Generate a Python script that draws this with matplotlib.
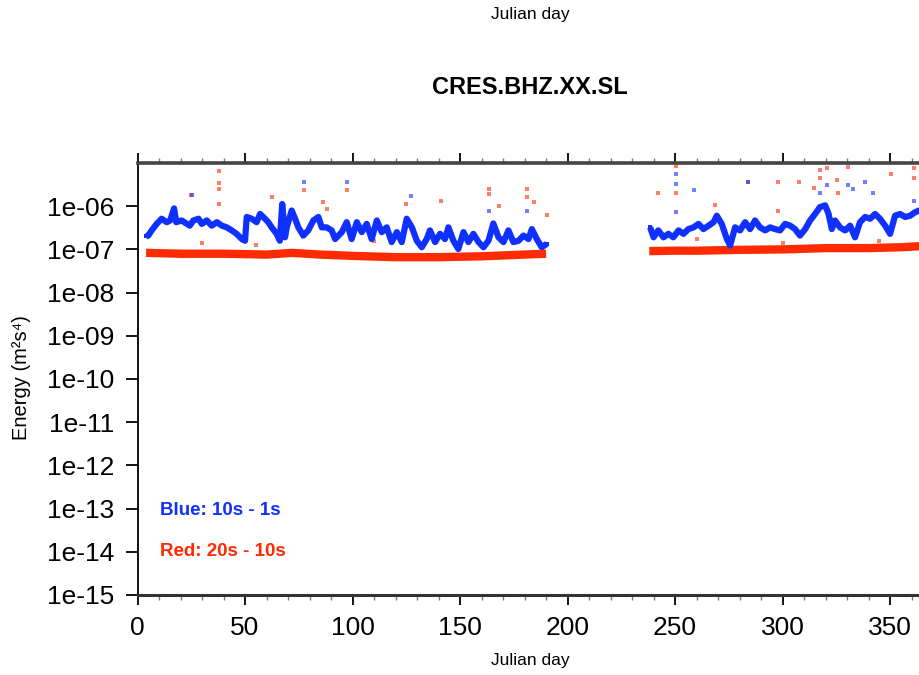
import matplotlib

matplotlib.use("Agg")
import matplotlib.pyplot as plt
import numpy as np

plt.rcParams["font.family"] = ["Liberation Sans", "DejaVu Sans"]

BLUE = "#1030ff"
RED = "#ff2a00"

# log10 energy, 10s - 1s band
blue_days_a = [4, 5, 6.6, 8.9, 11.2, 13.6, 15.2, 17, 18, 20.5, 24.3, 26, 28.4, 29.9, 32.2, 34.5,
               36.9, 39.2, 41.5, 43.8, 46.1, 48.5, 50, 50.8, 53.1, 55.4, 57, 59.3, 60.8, 62.4,
               64.7, 66.2, 67.3, 68.6, 69.4, 71.7, 73.3, 74.8, 77.1, 79.4, 81.8, 84.1, 85.7,
               88, 90.3, 91.9, 95, 97.3, 99.6, 102, 104.3, 106.6, 108.9, 111.3, 113.6, 115.9,
               118.2, 120.6, 122.9, 125.2, 127.6, 129.9, 132.2, 134.5, 136, 138.4, 140.7, 143,
               144.6, 146.9, 149.2, 151.6, 153.9, 156.2, 158.6, 160.9, 163.2, 165.5, 167.9,
               170.2, 172.5, 174.8, 177.2, 179.5, 181.8, 183.4, 185.7, 188, 190.3]
blue_log_a = [-6.70, -6.68, -6.56, -6.41, -6.29, -6.37, -6.33, -6.05, -6.37, -6.33, -6.45, -6.33,
              -6.29, -6.41, -6.33, -6.45, -6.37, -6.45, -6.49, -6.56, -6.64, -6.76, -6.80, -6.25,
              -6.29, -6.37, -6.18, -6.29, -6.37, -6.49, -6.64, -6.80, -5.95, -6.72, -6.49, -6.10,
              -6.29, -6.49, -6.68, -6.56, -6.33, -6.25, -6.49, -6.49, -6.56, -6.76, -6.60, -6.37,
              -6.76, -6.37, -6.60, -6.41, -6.76, -6.33, -6.60, -6.49, -6.83, -6.60, -6.83, -6.29,
              -6.49, -6.80, -6.95, -6.76, -6.56, -6.83, -6.64, -6.76, -6.49, -6.80, -6.99, -6.60,
              -6.83, -6.64, -6.83, -6.95, -6.80, -6.40, -6.72, -6.83, -6.56, -6.83, -6.80, -6.68,
              -6.76, -6.53, -6.76, -6.95, -6.87]

blue_days_b = [238.4, 240, 242.2, 244.6, 246.9, 249.2, 251.6, 253.9, 256.2, 258.6, 260.9, 263.2,
               265.6, 267.9, 269.4, 271.7, 274.1, 275.6, 277.9, 280.2, 282.6, 284.9, 287.2,
               289.5, 291.9, 294.2, 296.5, 298.8, 301.2, 303.5, 305.8, 308.1, 310.5, 312.8,
               315.1, 317.4, 319.8, 321.4, 322.9, 324.4, 326.7, 329.1, 331.4, 333.7, 336, 338.4,
               340.7, 343, 345.3, 347.7, 350, 352.3, 354.6, 357, 359.3, 361.6, 363.5, 366]
blue_log_b = [-6.49, -6.72, -6.56, -6.72, -6.64, -6.72, -6.56, -6.64, -6.53, -6.49, -6.41, -6.53,
              -6.45, -6.37, -6.22, -6.41, -6.76, -6.91, -6.49, -6.56, -6.37, -6.53, -6.33, -6.49,
              -6.56, -6.49, -6.53, -6.56, -6.41, -6.45, -6.53, -6.68, -6.53, -6.33, -6.18, -6.02,
              -5.98, -6.18, -6.53, -6.33, -6.49, -6.56, -6.45, -6.72, -6.37, -6.25, -6.29, -6.18,
              -6.29, -6.45, -6.64, -6.22, -6.18, -6.25, -6.22, -6.14, -6.10, -6.14]

# 20s - 10s band
red_days_a = [4, 20, 40, 60, 72, 85, 100, 120, 140, 160, 175, 190]
red_log_a = [-7.08, -7.10, -7.10, -7.12, -7.08, -7.12, -7.15, -7.18, -7.18, -7.16, -7.13, -7.10]
red_days_b = [238, 250, 260, 280, 300, 320, 340, 355, 366]
red_log_b = [-7.04, -7.03, -7.03, -7.01, -7.00, -6.97, -6.97, -6.95, -6.92]

# isolated high readings
blue_out_days = [25.2, 77.4, 97.2, 127, 163.5, 181.3, 250.5, 250.5, 250.5, 259, 284.1, 317.2,
                 320.6, 330.4, 332.9, 338.4, 342, 361.3]
blue_out_log = [-5.75, -5.43, -5.43, -5.77, -6.12, -6.10, -5.25, -5.48, -6.14, -5.63, -5.44,
                -5.69, -5.52, -5.50, -5.60, -5.44, -5.70, -5.87]
red_out_days = [38, 38, 38, 38, 62.4, 77.4, 97.2, 124.7, 141, 163.5, 163.5, 181.3, 181.3, 168,
                190.6, 184.2, 86.4, 88, 25, 242, 250.5, 250.5, 268.6, 284.1, 297.8, 297.8, 307.7,
                314.4, 317.2, 317.2, 320.6, 325.3, 330.4, 325.8, 350.4, 361.3, 361.3, 30, 55,
                110, 150, 260, 300, 345]
red_out_log = [-5.19, -5.47, -5.61, -5.94, -5.79, -5.62, -5.62, -5.94, -5.88, -5.60, -5.72,
               -5.60, -5.78, -5.99, -6.20, -5.90, -5.91, -6.07, -5.75, -5.70, -5.06, -5.70,
               -5.98, -5.44, -5.45, -6.10, -5.45, -5.58, -5.16, -5.35, -5.12, -5.39, -5.09,
               -5.70, -5.25, -5.12, -5.35, -6.85, -6.90, -6.80, -6.88, -6.75, -6.85, -6.80]

ytick_exp = list(range(-15, -5))
ytick_labels = [f"1e-{-e:02d}" for e in ytick_exp]
xticks = [0, 50, 100, 150, 200, 250, 300, 350]

fig = plt.figure(figsize=(9.19, 6.75), dpi=100)
ax = fig.add_axes([137.5 / 919, 80 / 675, 787 / 919, 432 / 675])

for d, v in [(red_days_a, red_log_a), (red_days_b, red_log_b)]:
    ax.plot(d, 10 ** np.array(v), color=RED, lw=6, solid_capstyle="butt")
ax.scatter(red_out_days, 10 ** np.array(red_out_log), s=5, marker="s", color=RED,
           alpha=0.6, linewidths=0)
for d, v in [(blue_days_a, blue_log_a), (blue_days_b, blue_log_b)]:
    ax.plot(d, 10 ** np.array(v), color=BLUE, lw=4.5, solid_capstyle="butt",
            marker="s", markersize=3.5, markeredgewidth=0)
ax.scatter(blue_out_days, 10 ** np.array(blue_out_log), s=5, marker="s", color=BLUE,
           alpha=0.6, linewidths=0)

ax.set_yscale("log")
ax.set_ylim(1e-15, 1e-5)
ax.set_xlim(0, 366)
ax.set_yticks([10.0 ** e for e in ytick_exp], ytick_labels)
ax.yaxis.set_minor_locator(matplotlib.ticker.NullLocator())
ax.set_xticks(xticks, [str(t) for t in xticks])
ax.set_xticks(np.arange(0, 367, 10), minor=True)

ax.spines["right"].set_visible(False)
ax.spines["left"].set_linewidth(1.3)
ax.spines["bottom"].set_linewidth(2.2)
ax.spines["top"].set_linewidth(2.6)
ax.spines["bottom"].set_color("#333333")
ax.spines["top"].set_color("#444444")
ax.tick_params(axis="y", which="major", direction="out", length=8.5, width=1.3, pad=8,
               labelsize=19)
ax.tick_params(axis="x", which="major", direction="out", length=7, width=1.3, pad=8,
               labelsize=19, top=True)
ax.tick_params(axis="x", which="minor", direction="out", length=3.5, width=1, top=True,
               color="#777777")

fig.text(530 / 919, 1 - 88 / 675, "CRES.BHZ.XX.SL", ha="center", va="center",
         fontsize=17, fontweight="bold")
fig.text(530 / 919, 1 - 15 / 675, "Julian day", ha="center", va="center", fontsize=12.5)
fig.text(530 / 919, 1 - 661 / 675, "Julian day", ha="center", va="center", fontsize=12.5)
fig.text(22 / 919, 1 - 378 / 675, "Energy (m²s⁴)", ha="center", va="center",
         rotation=90, fontsize=14.5)
ax.text(10.3, 10 ** -13.05, "Blue: 10s - 1s", color=BLUE, fontsize=13.5, fontweight="bold",
        va="center")
ax.text(10.3, 10 ** -14.0, "Red: 20s - 10s", color=RED, fontsize=13.5, fontweight="bold",
        va="center")

fig.savefig("out.png", dpi=100)
